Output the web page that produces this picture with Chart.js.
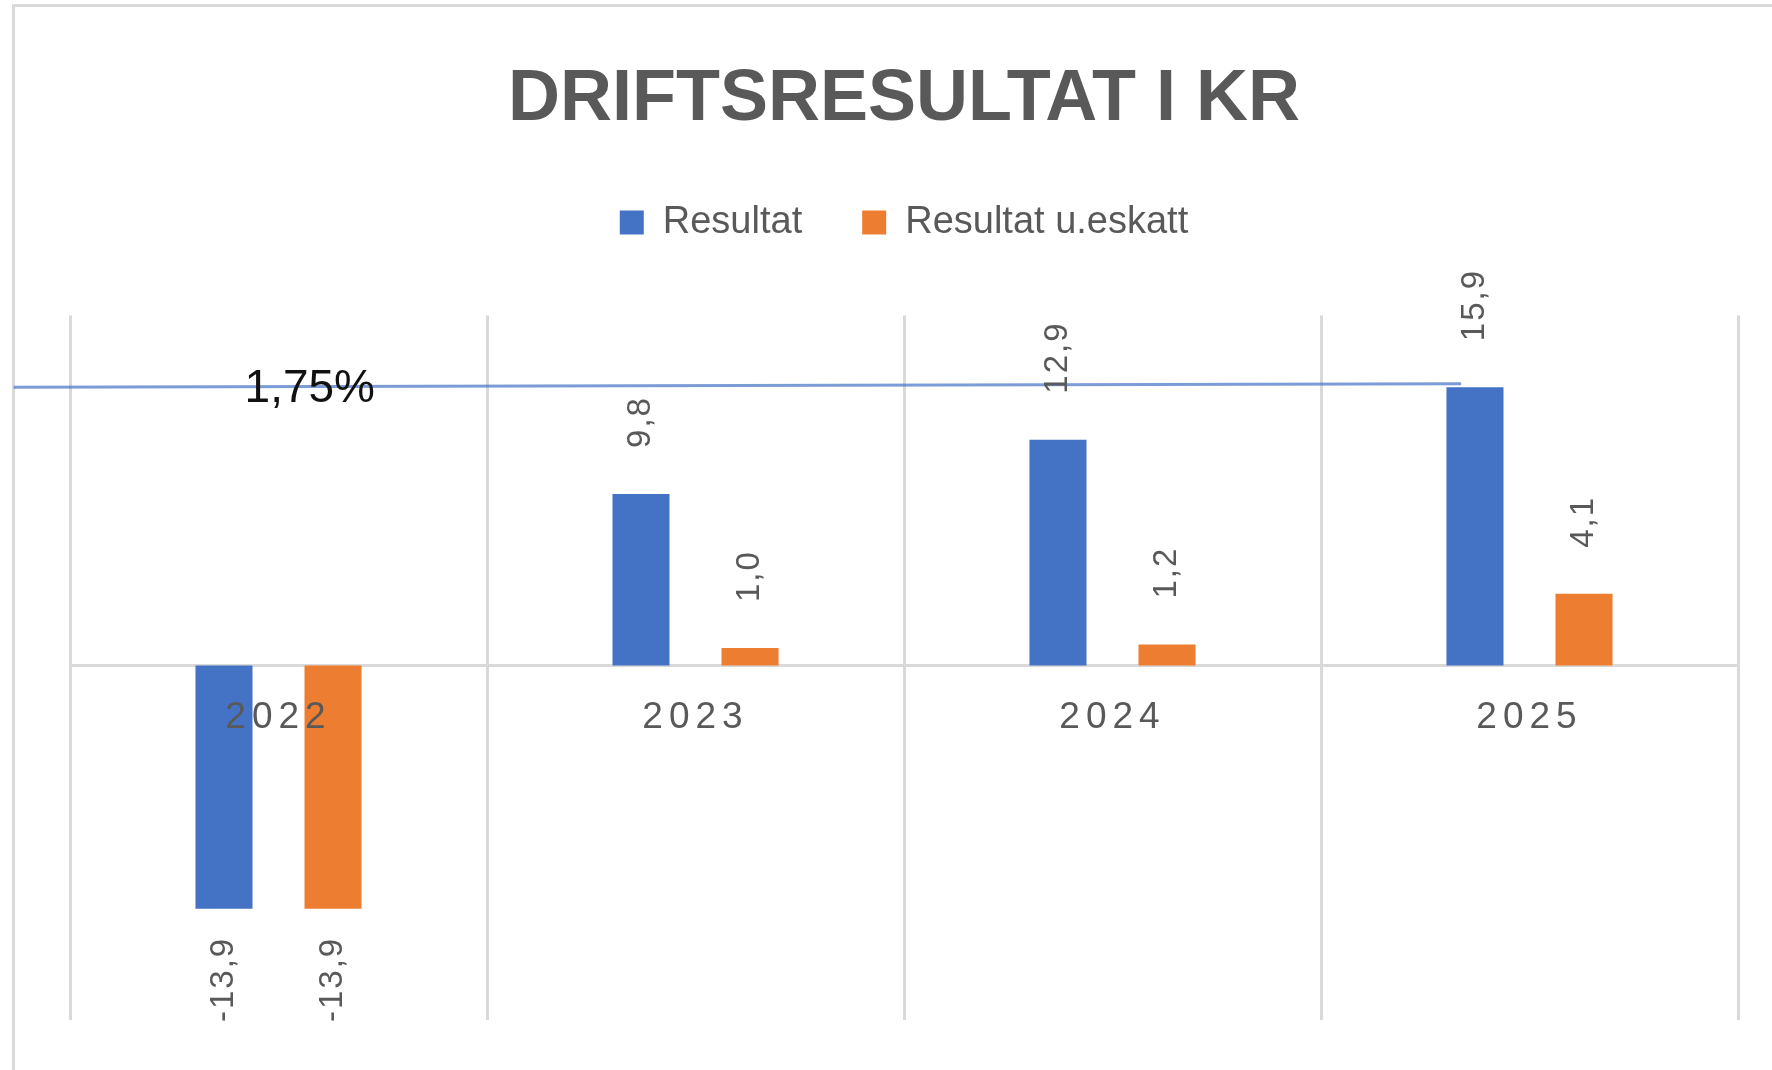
<!DOCTYPE html>
<html>
<head>
<meta charset="utf-8">
<title>Driftsresultat i kr</title>
<script src="https://cdn.jsdelivr.net/npm/chart.js@4.4.1/dist/chart.umd.min.js"></script>
<style>
  html, body { margin: 0; padding: 0; background: #fff; overflow: hidden; }
  #frame {
    position: absolute; left: 12px; top: 4px; width: 1800px; height: 1100px;
    border-top: 3px solid #d9d9d9; border-left: 3px solid #d9d9d9;
  }
  #chart { position: absolute; left: 0; top: 0; }
</style>
</head>
<body>
<div id="frame"></div>
<canvas id="chart" width="1772" height="1070"></canvas>
<script>
  // Data
  const categories = ['2022', '2023', '2024', '2025'];
  const resultat = [-13.9, 9.8, 12.9, 15.9];
  const resultatUEskatt = [-13.9, 1.0, 1.2, 4.1];
  const seriesNames = ['Resultat', 'Resultat u.eskatt'];

  // the hand-drawn 1,75% marker line (category positions / values)
  const markerText = '1,75%';
  const markerIndex = [-0.635, 2.836];
  const markerValue = [15.9, 16.1];
  const markerTextIndex = 0.075;

  var FONT = '"Liberation Sans", Arial, sans-serif';
  var GREY = '#595959';
  var GRID = '#d9d9d9';

  function fmt(v) {
    return v.toFixed(1).replace('.', ',');
  }

  // extra room between legend and plot area
  var legendGap = {
    id: 'legendGap',
    beforeInit: function(chart) {
      var fit = chart.legend.fit;
      chart.legend.fit = function() {
        fit.call(this);
        this.height += 64;
      };
    }
  };

  // rotated value labels, marker line and its text
  var overlay = {
    id: 'overlay',
    afterDatasetsDraw: function(chart) {
      var ctx = chart.ctx;
      var xs = chart.scales.x;
      var ys = chart.scales.y;

      ctx.save();
      ctx.strokeStyle = 'rgba(68,114,196,0.7)';
      ctx.lineWidth = 3;
      ctx.beginPath();
      ctx.moveTo(xs.getPixelForValue(markerIndex[0]), ys.getPixelForValue(markerValue[0]));
      ctx.lineTo(xs.getPixelForValue(markerIndex[1]), ys.getPixelForValue(markerValue[1]));
      ctx.stroke();

      ctx.font = '46px ' + FONT;
      ctx.fillStyle = '#111';
      ctx.textAlign = 'center';
      ctx.textBaseline = 'middle';
      ctx.letterSpacing = '0px';
      ctx.fillText(markerText, xs.getPixelForValue(markerTextIndex), ys.getPixelForValue(markerValue[0]) + 2);

      ctx.font = '33px ' + FONT;
      ctx.fillStyle = GREY;
      ctx.letterSpacing = '2px';
      chart.data.datasets.forEach(function(ds, i) {
        chart.getDatasetMeta(i).data.forEach(function(bar, j) {
          var v = ds.data[j];
          ctx.save();
          ctx.translate(bar.x, bar.y);
          ctx.rotate(-Math.PI / 2);
          if (v >= 0) {
            ctx.textAlign = 'left';
            ctx.fillText(fmt(v), 46, 0);
          } else {
            ctx.textAlign = 'right';
            ctx.fillText(fmt(v), -28, 0);
          }
          ctx.restore();
        });
      });
      ctx.restore();

      // year labels are drawn after this, spaced out like the original
      ctx.letterSpacing = '6px';
    },
    afterDraw: function(chart) {
      chart.ctx.letterSpacing = '0px';
    }
  };

  new Chart(document.getElementById('chart'), {
    type: 'bar',
    data: {
      labels: categories,
      datasets: [
        { label: seriesNames[0], data: resultat, backgroundColor: '#4472C4', borderWidth: 0 },
        { label: seriesNames[1], data: resultatUEskatt, backgroundColor: '#ED7D31', borderWidth: 0 }
      ]
    },
    options: {
      responsive: false,
      animation: false,
      categoryPercentage: 0.523,
      barPercentage: 0.523,
      layout: { padding: { left: 70, right: 34, top: 0, bottom: 50 } },
      plugins: {
        title: {
          display: true,
          text: 'DRIFTSRESULTAT I KR',
          color: GREY,
          font: { family: FONT, size: 72, weight: 'bold' },
          padding: { top: 57, bottom: 0 }
        },
        legend: {
          position: 'top',
          labels: {
            color: GREY,
            font: { family: FONT, size: 38 },
            boxWidth: 24,
            boxHeight: 24,
            padding: 60
          }
        },
        tooltip: { enabled: false }
      },
      scales: {
        x: {
          position: { y: 0 },
          grid: { color: GRID, lineWidth: 3, drawTicks: false, offset: true },
          border: { color: GRID, width: 3 },
          ticks: {
            color: GREY,
            font: { family: FONT, size: 37 },
            padding: 30,
            z: 1
          }
        },
        y: {
          display: false,
          min: -20.25,
          max: 20
        }
      }
    },
    plugins: [legendGap, overlay]
  });
</script>
</body>
</html>
